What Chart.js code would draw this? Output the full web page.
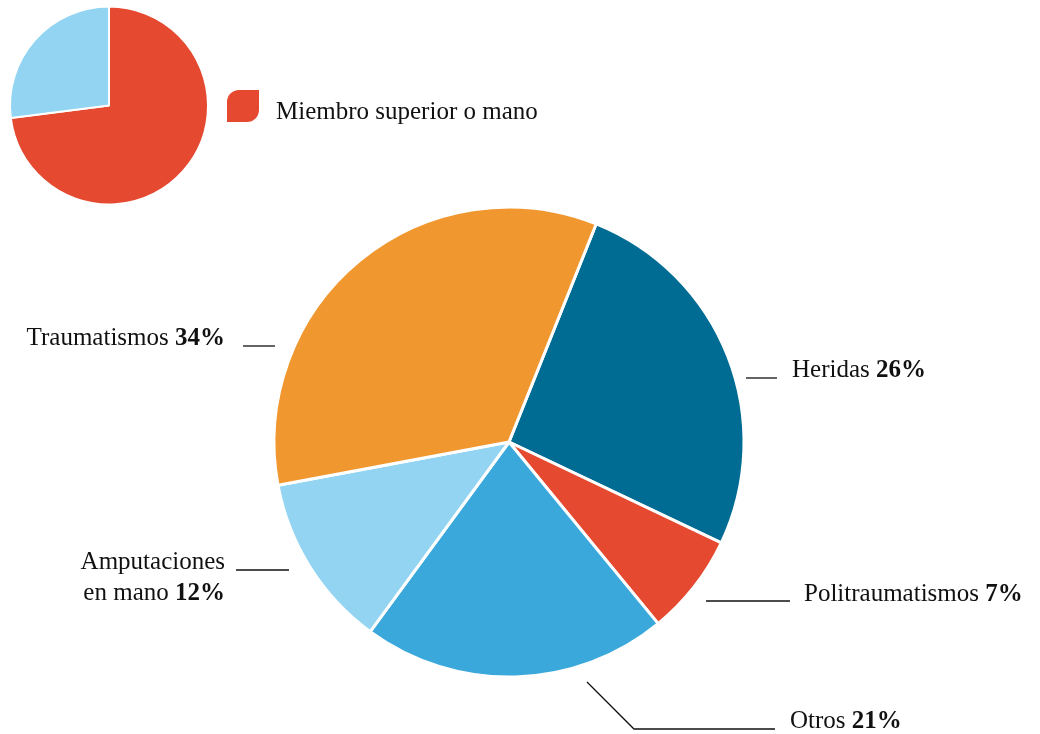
<!DOCTYPE html>
<html>
<head>
<meta charset="utf-8">
<script src="https://cdn.jsdelivr.net/npm/chart.js@4"></script>
<style>
  html, body { margin: 0; padding: 0; background: #fff; }
  #wrap { position: relative; width: 1040px; height: 734px; overflow: hidden; }
  #main { position: absolute; left: 0; top: 0; }
  #mini { position: absolute; left: 0; top: 0; }
  #legend { position: absolute; left: 227px; top: 90px; font: 25px "Liberation Serif", "Times New Roman", serif; color: #111; white-space: nowrap; }
  #legend i { display: inline-block; width: 32px; height: 32px; background: #E5492F; border-radius: 12px 0 12px 0; vertical-align: top; }
  #legend span { position: absolute; left: 49px; top: 8px; line-height: 25px; }
</style>
</head>
<body>
<div id="wrap">
  <canvas id="mini" width="218" height="211"></canvas>
  <div id="legend"><i></i><span>Miembro superior o mano</span></div>
  <canvas id="main" width="1040" height="734"></canvas>
</div>
<script>
(function () {
    "use strict";

    // Datos
    var miniLabels = ["Miembro superior o mano", "Otros"];
    var miniValues = [73, 27];
    var miniColors = ["#E5492F", "#92D4F1"];

    var categories = ["Heridas", "Politraumatismos", "Otros", "Amputaciones en mano", "Traumatismos"];
    var values = [26, 7, 21, 12, 34];
    var colors = ["#006C93", "#E5492F", "#3AA8DB", "#92D4F1", "#F0972F"];

    // texto de las etiquetas (nombre en normal, porcentaje en negrita)
    var labelText = [["Heridas"], ["Politraumatismos"], ["Otros"], ["Amputaciones", "en mano"], ["Traumatismos"]];

    // posición de las etiquetas relativa al centro de la torta
    var labelLayout = [
        { line: [[237, -64], [268, -64]], text: [283, -65], align: "left" },
        { line: [[197, 159], [281, 159]], text: [295, 159], align: "left" },
        { line: [[78, 240], [125, 287], [266, 287]], text: [281, 286], align: "left" },
        { line: [[-273, 128], [-220, 128]], text: [-284, 127], align: "right" },
        { line: [[-266, -96], [-234, -96]], text: [-284, -97], align: "right" }
    ];

    var FONT = '"Liberation Serif", "Times New Roman", serif';

    // Mini pie
    new Chart(document.getElementById("mini"), {
        type: "pie",
        data: {
            labels: miniLabels,
            datasets: [{ data: miniValues, backgroundColor: miniColors, borderColor: "#fff", borderWidth: 2 }]
        },
        options: {
            responsive: false,
            animation: false,
            radius: 99,
            plugins: { legend: { display: false }, tooltip: { enabled: false } }
        }
    });

    // Etiquetas con líneas guía
    var leaderLabels = {
        id: "leaderLabels",
        afterDraw: function (chart) {
            var ctx = chart.ctx;
            var arcs = chart.getDatasetMeta(0).data;
            if (!arcs.length) return;
            var cx = arcs[0].x, cy = arcs[0].y;
            ctx.save();
            ctx.strokeStyle = "#111";
            ctx.lineWidth = 1.3;
            ctx.fillStyle = "#111";
            ctx.textBaseline = "alphabetic";
            labelLayout.forEach(function (lay, i) {
                ctx.beginPath();
                lay.line.forEach(function (p, k) {
                    if (k === 0) ctx.moveTo(cx + p[0], cy + p[1]);
                    else ctx.lineTo(cx + p[0], cy + p[1]);
                });
                ctx.stroke();

                var lines = labelText[i].slice();
                var pct = values[i] + "%";
                var x = cx + lay.text[0], y = cy + lay.text[1];
                lines.forEach(function (t, k) {
                    var last = k === lines.length - 1;
                    var ly = y + k * 31;
                    ctx.font = "25px " + FONT;
                    var normal = last ? t + " " : t;
                    var wN = ctx.measureText(normal).width;
                    ctx.font = "bold 25px " + FONT;
                    var wB = last ? ctx.measureText(pct).width : 0;
                    var x0 = lay.align === "right" ? x - wN - wB : x;
                    ctx.textAlign = "left";
                    ctx.font = "25px " + FONT;
                    ctx.fillText(normal, x0, ly);
                    if (last) {
                        ctx.font = "bold 25px " + FONT;
                        ctx.fillText(pct, x0 + wN, ly);
                    }
                });
            });
            ctx.restore();
        }
    };

    // Main pie
    new Chart(document.getElementById("main"), {
        type: "pie",
        data: {
            labels: categories,
            datasets: [{ data: values, backgroundColor: colors, borderColor: "#fff", borderWidth: 3 }]
        },
        options: {
            responsive: false,
            animation: false,
            rotation: 21.8,
            radius: 235,
            layout: { padding: { left: 0, right: 22, top: 150, bottom: 0 } },
            plugins: { legend: { display: false }, tooltip: { enabled: false } }
        },
        plugins: [leaderLabels]
    });
})();
</script>
</body>
</html>
